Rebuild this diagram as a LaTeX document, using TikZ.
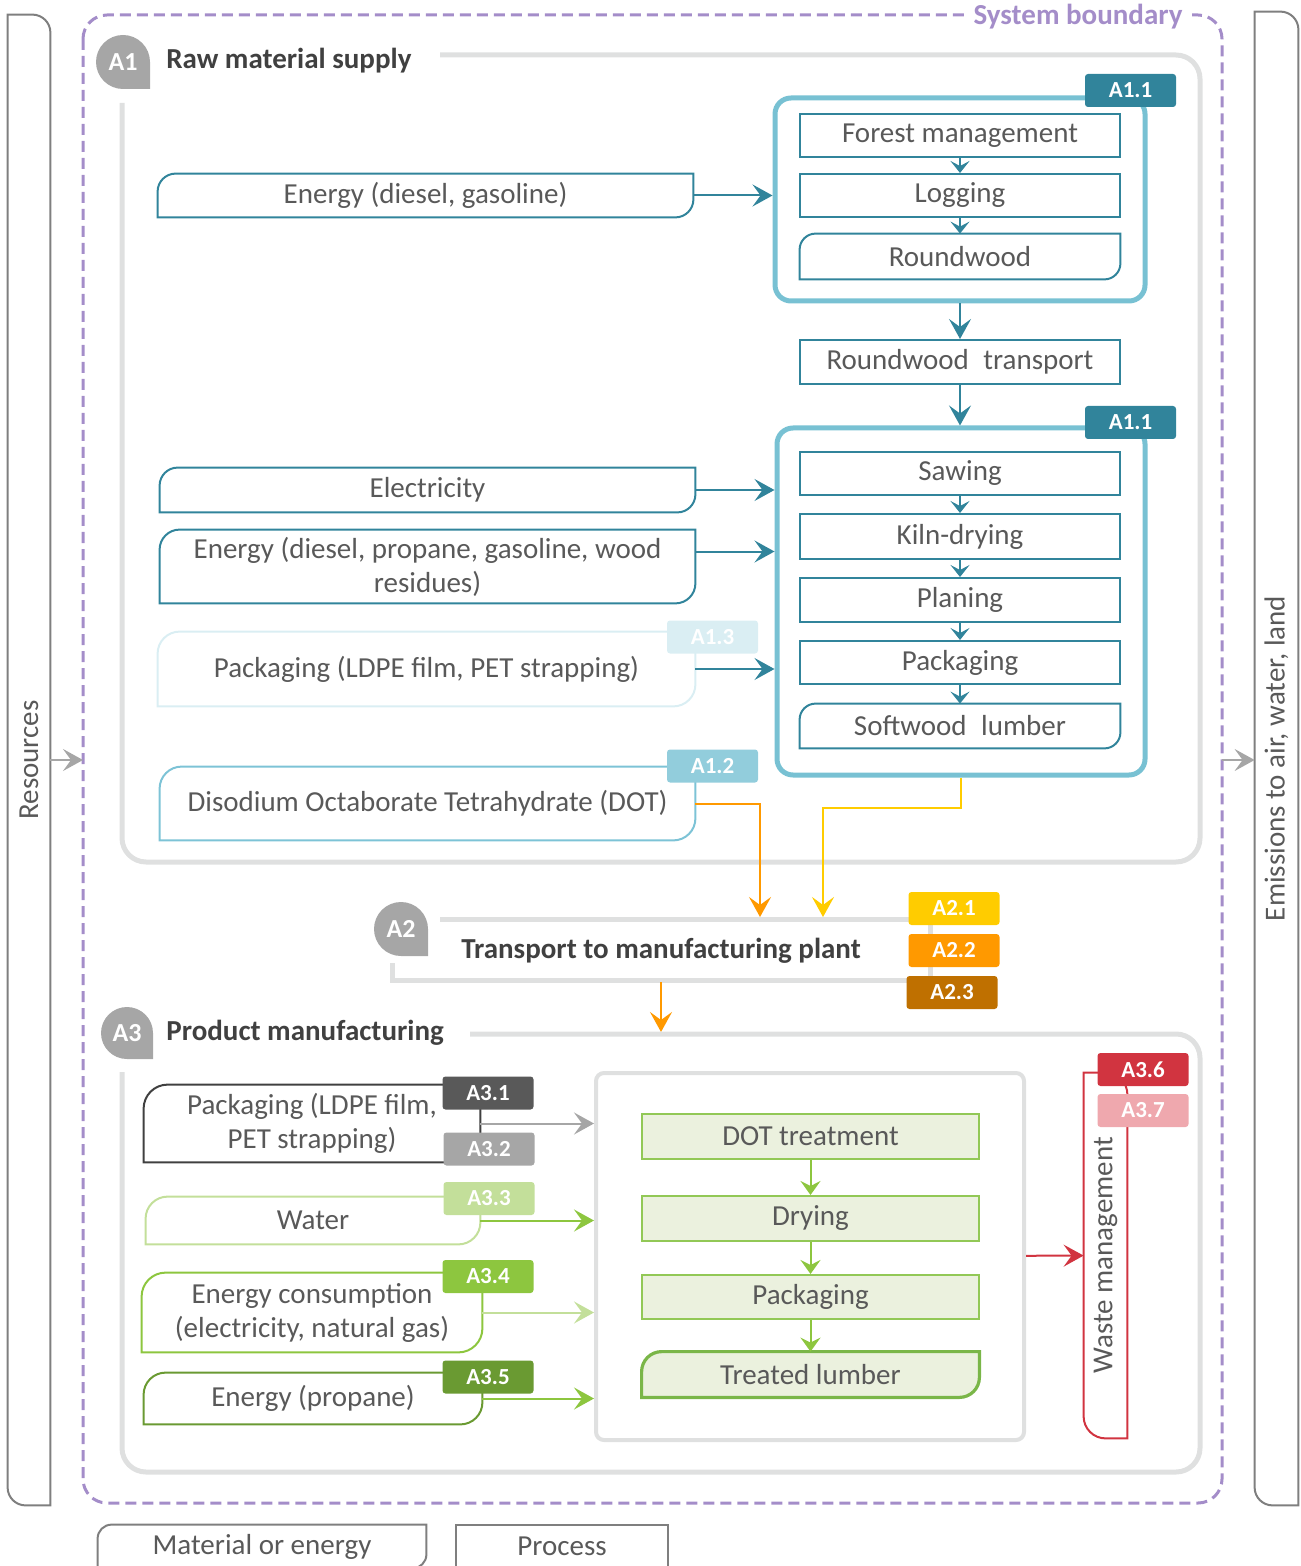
\documentclass[tikz,border=0pt]{standalone}
\usepackage{fontspec}
\setmainfont{Carlito}
\usetikzlibrary{arrows.meta,backgrounds}
\definecolor{txtc}{HTML}{595959}
\definecolor{headc}{HTML}{404040}
\definecolor{tealc}{HTML}{31849B}
\definecolor{framec}{HTML}{78C1D3}
\definecolor{lblue}{HTML}{92CDDC}
\definecolor{dotc}{HTML}{7DC3D6}
\definecolor{vlblue}{HTML}{DAEEF3}
\definecolor{grayfr}{HTML}{DFE0E0}
\definecolor{badgec}{HTML}{A6A6A6}
\definecolor{purp}{HTML}{A48DC9}
\definecolor{ya}{HTML}{FFCC00}
\definecolor{oa}{HTML}{FF9900}
\definecolor{ba}{HTML}{BF7000}
\definecolor{gfill}{HTML}{EBF1DE}
\definecolor{gprocc}{HTML}{92C856}
\definecolor{gtl}{HTML}{7AB648}
\definecolor{gone}{HTML}{C3DF9A}
\definecolor{gtwo}{HTML}{8DC63F}
\definecolor{gthree}{HTML}{6A9A32}
\definecolor{dgc}{HTML}{595959}
\definecolor{mgc}{HTML}{A6A6A6}
\definecolor{redone}{HTML}{D13440}
\definecolor{redtwo}{HTML}{EFA8AE}
\definecolor{boxg}{HTML}{7F7F7F}
\definecolor{pkdark}{HTML}{404040}

% leaf shape: rounded top-left and bottom-right (#1 = radius in pt, number)
\newcommand\myleaf[3]{%
\draw[#3] (#2.south west) -- ([yshift={-#1pt}]#2.north west)
  .. controls ([yshift={-0.448*#1pt}]#2.north west) and ([xshift={0.448*#1pt}]#2.north west) .. ([xshift={#1pt}]#2.north west)
  -- (#2.north east) -- ([yshift={#1pt}]#2.south east)
  .. controls ([yshift={0.448*#1pt}]#2.south east) and ([xshift={-0.448*#1pt}]#2.south east) .. ([xshift={-#1pt}]#2.south east)
  -- cycle;}
% rotated leaf: rounded top-right and bottom-left
\newcommand\myrleaf[3]{%
\draw[#3] (#2.north west) -- ([xshift={-#1pt}]#2.north east)
  .. controls ([xshift={-0.448*#1pt}]#2.north east) and ([yshift={-0.448*#1pt}]#2.north east) .. ([yshift={-#1pt}]#2.north east)
  -- (#2.south east) -- ([xshift={#1pt}]#2.south west)
  .. controls ([xshift={0.448*#1pt}]#2.south west) and ([yshift={0.448*#1pt}]#2.south west) .. ([yshift={#1pt}]#2.south west)
  -- cycle;}
% badge (teardrop)
\newcommand\mybadge[5]{%
\fill[badgec] ({#1+#3},{#2+#3}) -- (#1,{#2+#3}) .. controls ({#1-0.552*#3},{#2+#3}) and ({#1-#3},{#2+0.552*#3}) .. ({#1-#3},#2) .. controls ({#1-#3},{#2-0.552*#3}) and ({#1-0.552*#3},{#2-#3}) .. (#1,{#2-#3}) .. controls ({#1+0.552*#3},{#2-#3}) and ({#1+#3},{#2-0.552*#3}) .. ({#1+#3},#2) -- cycle;
\node[badget] (#4) at (#1,#2) {#5};}

\tikzset{
 ptxt/.style={font=\fontsize{14.5}{17}\selectfont, text=txtc},
 tproc/.style={draw=tealc, line width=1pt, minimum width=160pt, minimum height=21.5pt, inner sep=0pt},
 gproc/.style={draw=gprocc, fill=gfill, line width=1pt, minimum width=168.5pt, minimum height=22.5pt, inner sep=0pt},
 matn/.style={inner sep=0pt, align=center},
 aframe/.style={draw=framec, line width=2.5pt, rounded corners=8pt, inner sep=0pt},
 tagbox/.style={rounded corners=1.5pt, minimum width=45.5pt, minimum height=16.5pt, inner sep=0pt, text=white, font=\fontsize{11.5}{13}\selectfont\bfseries},
 headt/.style={font=\fontsize{14.5}{17}\selectfont\bfseries, text=headc, inner sep=0pt},
 badget/.style={text=white, font=\fontsize{13}{15}\selectfont\bfseries, inner sep=0pt},
 gframe/.style={draw=grayfr, line width=2.5pt},
 bigtip/.style={-{Stealth[length=10pt,width=11pt,inset=4pt]}},
 midtip/.style={-{Stealth[length=7pt,width=10pt,inset=2.5pt]}},
 smalltip/.style={-{Stealth[length=6pt,width=9.5pt,inset=2.5pt]}},
 conn/.style={line width=1pt},
}

\begin{document}
\begin{tikzpicture}[x=0.5pt,y=-0.5pt, every node/.append style={ptxt}]
\useasboundingbox (0,0) rectangle (1300,1566);

% system boundary
\draw[purp, line width=1.5pt, dash pattern=on 5.5pt off 3pt, rounded corners=12pt] (83,15) rectangle (1222,1503);
\node[fill=white, inner xsep=5pt, inner ysep=1pt, font=\fontsize{14.5}{17}\selectfont\bfseries, text=purp] (sb) at (1078,17) {System boundary};

% resources / emissions
\node[minimum width=21pt, minimum height=745pt, inner sep=0pt] (res) at (29,760) {\rotatebox{90}{Resources}};
\myrleaf{9}{res}{boxg, line width=1pt}
\node[minimum width=21.5pt, minimum height=746.5pt, inner sep=0pt] (emi) at (1276.5,758.5) {\rotatebox{90}{Emissions to air, water, land}};
\myrleaf{9}{emi}{boxg, line width=1pt}
\coordinate (bL) at (83,760);
\coordinate (bR) at (1222,760);
\draw[conn, mgc, bigtip] (res.east |- bL) -- (bL);
\draw[conn, mgc, bigtip] (bR) -- (bR -| emi.west);

% ---------------- A1 ----------------
\draw[gframe, rounded corners=12pt] (440,55) -- (1200,55) -- (1200,862) -- (122,862) -- (122,103);
\mybadge{123}{62}{27}{b1}{A1}
\node[headt, anchor=west] (t1) at (166,61) {Raw material supply};

\node[aframe, minimum width=185pt, minimum height=101.5pt] (fr1) at (960,199.5) {};
\node[tagbox, fill=tealc] (tag11a) at (1130.5,90.5) {A1.1};
\node[tproc] (fm) at (960,135.5) {Forest management};
\node[tproc] (lg) at (960,195.5) {Logging};
\node[matn, minimum width=160pt, minimum height=22.5pt] (rw) at (960,256.5) {Roundwood};
\myleaf{8}{rw}{tealc, line width=1pt}
\draw[conn, tealc, smalltip] (fm) -- (lg);
\draw[conn, tealc, smalltip] (lg) -- (rw);

\node[tproc, minimum height=22pt] (rwt) at (960,362) {Roundwood\enspace transport};
\draw[conn, tealc, bigtip] (fr1) -- (rwt);

\node[aframe, minimum width=184pt, minimum height=173.5pt] (fr2) at (961,601.5) {};
\node[tagbox, fill=tealc] (tag11b) at (1130.5,422.5) {A1.1};
\draw[conn, tealc, bigtip] (rwt.south) -- (rwt.south |- fr2.north);
\node[tproc] (saw) at (960,473.5) {Sawing};
\node[tproc, minimum height=22.5pt] (kiln) at (960,536.5) {Kiln-drying};
\node[tproc, minimum height=22pt] (plan) at (960,600) {Planing};
\node[tproc] (pack1) at (960,662.5) {Packaging};
\node[matn, minimum width=160pt, minimum height=22pt] (swl) at (960,726) {Softwood\enspace lumber};
\myleaf{8}{swl}{tealc, line width=1pt}
\draw[conn, tealc, smalltip] (saw) -- (kiln);
\draw[conn, tealc, smalltip] (kiln) -- (plan);
\draw[conn, tealc, smalltip] (plan) -- (pack1);
\draw[conn, tealc, smalltip] (pack1) -- (swl);

% A1 inputs
\node[matn, minimum width=267.5pt, minimum height=21.5pt] (en1) at (425.5,195.5) {Energy (diesel, gasoline)};
\myleaf{9}{en1}{tealc, line width=1pt}
\draw[conn, tealc, bigtip] (en1.east) -- (en1.east -| fr1.west);

\node[matn, minimum width=267.5pt, minimum height=22pt] (elec) at (427.5,490) {Electricity};
\myleaf{9}{elec}{tealc, line width=1pt}
\draw[conn, tealc, bigtip] (elec.east) -- (elec.east -| fr2.west);

\node[matn, minimum width=267.5pt, minimum height=36.5pt] (en2) at (427.5,566.5) {Energy (diesel, propane, gasoline, wood\\residues)};
\myleaf{10}{en2}{tealc, line width=1pt}
\coordinate (en2o) at ([yshift=7.5pt]en2.east);
\draw[conn, tealc, bigtip] (en2o) -- (en2o -| fr2.west);

\node[matn, minimum width=268.5pt, minimum height=37pt] (pka1) at (426.5,669) {Packaging (LDPE film, PET strapping)};
\myleaf{11}{pka1}{vlblue, line width=1pt}
\node[tagbox, fill=vlblue] (tag13) at (712.5,637) {A1.3};
\draw[conn, tealc, bigtip] (pka1.east) -- (pka1.east -| fr2.west);

\node[matn, minimum width=267.5pt, minimum height=36.5pt] (dot) at (427.5,803.5) {Disodium Octaborate Tetrahydrate (DOT)};
\myleaf{11}{dot}{dotc, line width=1pt}
\node[tagbox, fill=lblue] (tag12) at (712.5,766) {A1.2};

% ---------------- A2 ----------------
\draw[gframe] (440,919) -- (930,919) -- (930,980) -- (392,980) -- (392,963);
\mybadge{401}{929}{27}{b2}{A2}
\node[headt] (t2) at (661,951) {Transport to manufacturing plant};
\node[tagbox, fill=ya] (a21) at (954,908.5) {A2.1};
\node[tagbox, fill=oa] (a22) at (954,950.5) {A2.2};
\node[tagbox, fill=ba] (a23) at (952,992.5) {A2.3};
\coordinate (a2inA) at (760,917);
\coordinate (a2inB) at (823,917);
\draw[conn, oa, bigtip] (dot.east) -| (a2inA);
\draw[conn, ya, bigtip] (fr2.south) -- ++(0,30) -| (a2inB);
\coordinate (a2out) at (661,982);
\coordinate (a3in) at (661,1032);
\draw[conn, oa, bigtip] (a2out) -- (a3in);

% ---------------- A3 ----------------
\draw[gframe, rounded corners=12pt] (470,1034) -- (1200,1034) -- (1200,1472) -- (122,1472) -- (122,1072);
\mybadge{127}{1033}{26}{b3}{A3}
\node[headt, anchor=west] (t3) at (166,1033) {Product manufacturing};

\node[draw=grayfr, line width=2pt, rounded corners=4pt, minimum width=214pt, minimum height=183.5pt, inner sep=0pt] (proc) at (810,1256.5) {};
\node[gproc] (dott) at (810.5,1136) {DOT treatment};
\node[gproc] (dry) at (810.5,1218.5) {Drying};
\node[gproc, minimum height=22pt] (pkg3) at (810.5,1297) {Packaging};
\node[matn, minimum width=168.5pt, minimum height=22.5pt] (tl) at (810.5,1374.5) {Treated lumber};
\begin{scope}[on background layer]
\myleaf{10}{tl}{draw=none, fill=gfill}
\end{scope}
\myleaf{10}{tl}{gtl, line width=1.6pt}
\draw[conn, gtwo, midtip] (dott) -- (dry);
\draw[conn, gtwo, midtip] (dry) -- (pkg3);
\draw[conn, gtwo, midtip] (pkg3) -- (tl);

% A3 inputs
\node[matn, minimum width=168pt, minimum height=38.5pt] (pk3) at (312,1123.5) {Packaging (LDPE film,\\PET strapping)};
\myleaf{12}{pk3}{pkdark, line width=1pt}
\node[tagbox, fill=dgc] (tag31) at (488,1093) {A3.1};
\node[tagbox, fill=mgc] (tag32) at (489,1149) {A3.2};
\draw[conn, mgc, bigtip] (pk3.east) -- (pk3.east -| proc.west);

\node[matn, minimum width=167pt, minimum height=23.5pt] (wat) at (313,1220.5) {Water};
\myleaf{11}{wat}{gone, line width=1pt}
\node[tagbox, fill=gone] (tag33) at (489,1198.5) {A3.3};
\draw[conn, gtwo, bigtip] (wat.east) -- (wat.east -| proc.west);

\node[matn, minimum width=170pt, minimum height=39.5pt] (ec) at (312,1312.5) {Energy consumption\\(electricity, natural gas)};
\myleaf{12}{ec}{gtwo, line width=1pt}
\node[tagbox, fill=gtwo] (tag34) at (488,1276.5) {A3.4};
\draw[conn, gone, bigtip] (ec.east) -- (ec.east -| proc.west);

\node[matn, minimum width=169pt, minimum height=25.5pt] (prop) at (313,1398.5) {Energy (propane)};
\myleaf{11}{prop}{gthree, line width=1pt}
\node[tagbox, fill=gthree] (tag35) at (488,1377) {A3.5};
\draw[conn, gtwo, bigtip] (prop.east) -- (prop.east -| proc.west);

% waste management
\node[minimum width=21.5pt, minimum height=182.5pt, inner sep=0pt] (wm) at (1105.5,1255.5) {\rotatebox{90}{Waste management}};
\myrleaf{11}{wm}{redone, line width=1pt}
\node[tagbox, fill=redone] (tag36) at (1143,1069.5) {A3.6};
\node[tagbox, fill=redtwo] (tag37) at (1143,1110.5) {A3.7};
\draw[conn, redone, bigtip] (proc) -- (wm);

% legend
\node[matn, minimum width=164pt, minimum height=21.5pt] (leg1) at (262,1546.5) {Material or energy};
\myleaf{7}{leg1}{boxg, line width=1pt}
\node[draw=boxg, line width=1pt, minimum width=106pt, minimum height=21.5pt, inner sep=0pt] (leg2) at (562,1546.5) {Process};
\end{tikzpicture}
\end{document}
